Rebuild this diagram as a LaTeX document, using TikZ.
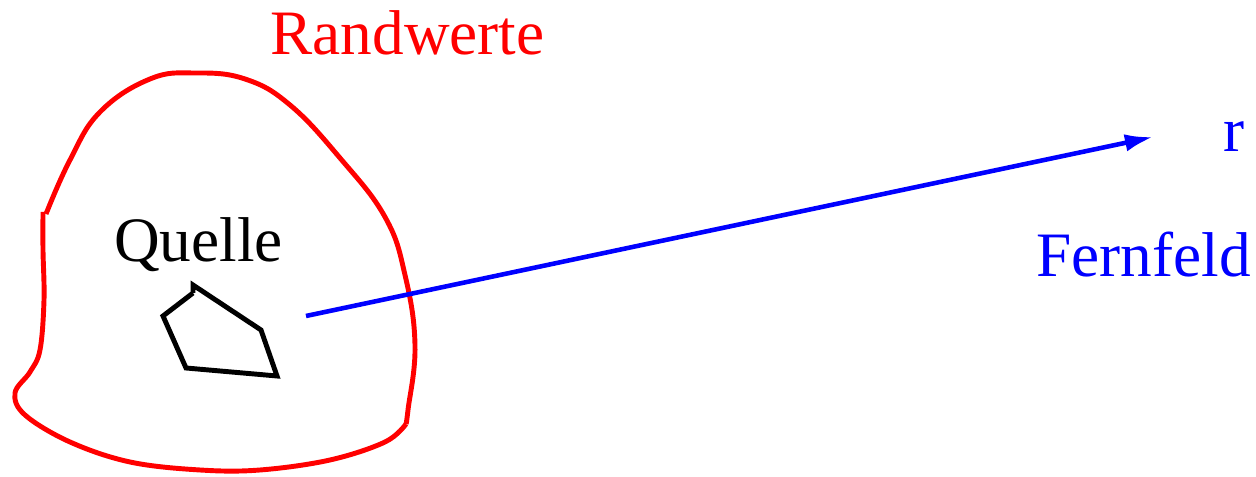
\documentclass[tikz,border=0pt]{standalone}
\usepackage{fontspec}
\setmainfont{Liberation Serif}
\usepackage{xcolor}
\usepackage{tikz}
\usetikzlibrary{arrows.meta,positioning}

\begin{document}
\begin{tikzpicture}[
    txt/.style={inner sep=0pt, anchor=base, font=\fontsize{18}{21}\selectfont},
    rand/.style={draw=red, line width=1.4pt},
    quelle/.style={draw=black, line width=1.4pt, line join=miter},
    arrow/.style={-{Latex[length=8pt,width=5pt]}, draw=blue, line width=1.3pt}
]
    \useasboundingbox (0,0) rectangle (12.56,4.77);

    % boundary
    \draw[rand] plot[smooth, tension=0.7] coordinates {(0.46,2.63) (0.70,3.17) (1.00,3.65) (1.50,3.98) (1.95,4.04) (2.45,3.98) (2.90,3.72) (3.40,3.19) (3.85,2.60) (4.05,2.02) (4.15,1.32) (4.08,0.67) (4.06,0.53)};
    \draw[rand] plot[smooth, tension=0.6] coordinates {(4.06,0.53) (3.85,0.35) (3.30,0.17) (2.60,0.07) (2.00,0.07) (1.30,0.15) (0.70,0.35) (0.25,0.62) (0.15,0.84) (0.30,1.05) (0.40,1.27) (0.44,1.77) (0.43,2.27) (0.43,2.65)};

    % source
    \draw[quelle] (1.93,1.84) -- (1.63,1.61) -- (1.86,1.09) -- (2.77,1.01) -- (2.61,1.47) -- (1.93,1.92) -- (1.93,1.84);

    \coordinate (src) at (3.06,1.61);
    \coordinate (far) at (11.53,3.40);
    \draw[arrow] (src) -- (far);

    \node[txt, text=red] (rw) at (4.075,4.22) {Randwerte};
    \node[txt] (q) at (1.985,2.15) {Quelle};
    \node[txt, text=blue] (r) at (12.34,3.25) {r};
    \node[txt, text=blue] (ff) at (11.435,2.00) {Fernfeld};
\end{tikzpicture}
\end{document}
